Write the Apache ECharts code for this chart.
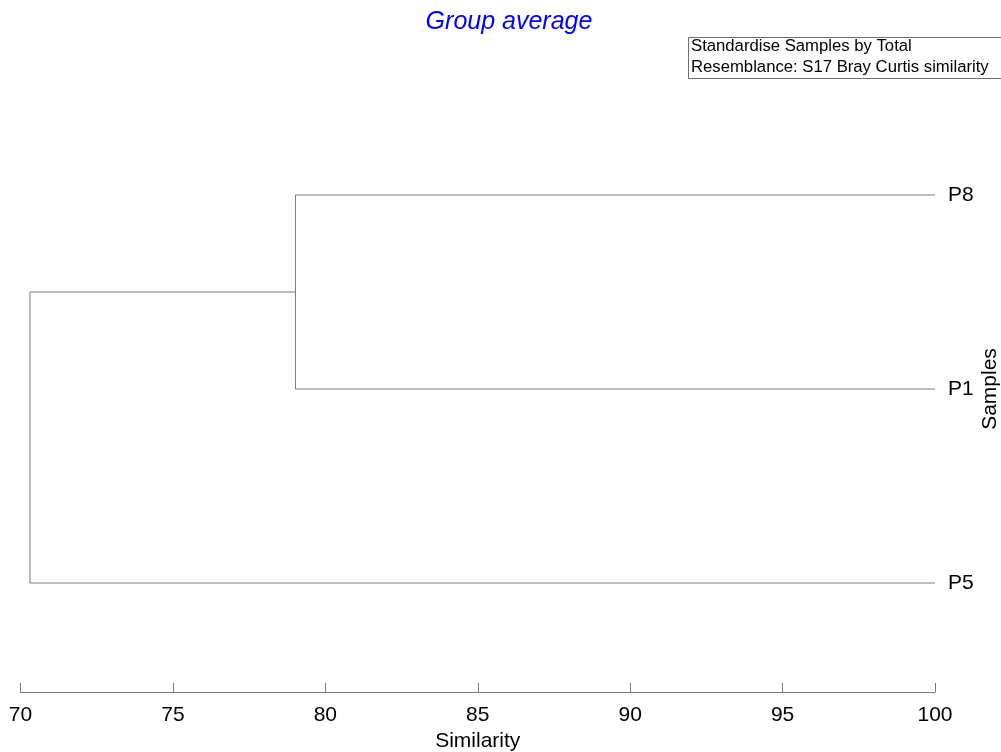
<!DOCTYPE html>
<html>
<head>
<meta charset="utf-8">
<script src="https://cdn.jsdelivr.net/npm/echarts@6/dist/echarts.min.js"></script>
<style>
  html, body { margin: 0; padding: 0; background: #fff; }
  #chart { width: 1001px; height: 752px; }
</style>
</head>
<body>
<div id="chart"></div>
<script>
// Leaf samples, top to bottom
const leaves = ['P8', 'P1', 'P5'];
// Agglomeration steps: two clusters joined at a similarity level (%)
const mergeLeft = [['P8'], ['P8', 'P1']];
const mergeRight = [['P1'], ['P5']];
const mergeSimilarity = [79.02, 70.31];
// Similarity axis ticks
const xTicks = [70, 75, 80, 85, 90, 95, 100];

const LINE = '#7a7a7a';
const FONT = '"Liberation Sans", Arial, sans-serif';

// Build the dendrogram segments from the merge table
const nodePos = {};      // key -> {y, x}
leaves.forEach((name, i) => { nodePos[name] = { y: i + 1, x: 100 }; });
const segments = [];
const keyOf = arr => arr.join('|');
mergeLeft.forEach((leftSet, i) => {
  const a = nodePos[keyOf(leftSet)];
  const b = nodePos[keyOf(mergeRight[i])];
  const s = mergeSimilarity[i];
  segments.push([[a.x, a.y], [s, a.y]]);
  segments.push([[b.x, b.y], [s, b.y]]);
  segments.push([[s, a.y], [s, b.y]]);
  nodePos[keyOf(leftSet.concat(mergeRight[i]))] = { y: (a.y + b.y) / 2, x: s };
});
const series = segments.map(seg => ({
  type: 'line',
  data: seg,
  symbol: 'none',
  silent: true,
  xAxisIndex: 0,
  yAxisIndex: 0,
  lineStyle: { color: LINE, width: 1 },
  animation: false
}));

const chart = echarts.init(document.getElementById('chart'));
chart.setOption({
  backgroundColor: '#fff',
  animation: false,
  title: {
    text: 'Group average',
    left: 504,
    textAlign: 'center',
    top: 5,
    textStyle: { color: '#0000ff', fontStyle: 'italic', fontWeight: 'normal', fontSize: 25, fontFamily: FONT }
  },
  graphic: [
    {
      type: 'rect',
      shape: { x: 688.5, y: 37.5, width: 330, height: 41 },
      style: { fill: '#fff', stroke: '#6e6e6e', lineWidth: 1 }
    },
    {
      type: 'text',
      x: 691, y: 38,
      style: { text: 'Standardise Samples by Total', fill: '#000', font: '16.7px ' + FONT }
    },
    {
      type: 'text',
      x: 691, y: 59,
      style: { text: 'Resemblance: S17 Bray Curtis similarity', fill: '#000', font: '16.7px ' + FONT }
    }
  ],
  grid: { left: 20.5, right: 66, top: 98, bottom: 72, containLabel: false, outerBoundsMode: 'none' },
  xAxis: {
    type: 'value',
    min: xTicks[0],
    max: xTicks[xTicks.length - 1],
    interval: 5,
    offset: 12,
    name: 'Similarity',
    nameLocation: 'middle',
    nameGap: 39,
    nameMoveOverlap: false,
    nameTextStyle: { color: '#000', fontSize: 21, fontFamily: FONT },
    axisLine: { show: true, lineStyle: { color: LINE, width: 1 } },
    axisTick: { show: true, inside: true, length: 9, lineStyle: { color: LINE } },
    axisLabel: { color: '#000', fontSize: 21, fontFamily: FONT, margin: 13,
                 formatter: v => xTicks.includes(v) ? String(v) : '' },
    splitLine: { show: false }
  },
  yAxis: [
    {
      type: 'value',
      min: 0.5,
      max: leaves.length + 0.5,
      inverse: true,
      show: false
    },
    {
      type: 'category',
      data: leaves,
      inverse: true,
      position: 'right',
      name: 'Samples',
      nameLocation: 'middle',
      nameRotate: 90,
      nameGap: 45,
      nameMoveOverlap: false,
      nameTextStyle: { color: '#000', fontSize: 21, fontFamily: FONT },
      axisLine: { show: false },
      axisTick: { show: false },
      axisLabel: { color: '#000', fontSize: 21, fontFamily: FONT, margin: 13 },
      splitLine: { show: false }
    }
  ],
  series: series
});
</script>
</body>
</html>
